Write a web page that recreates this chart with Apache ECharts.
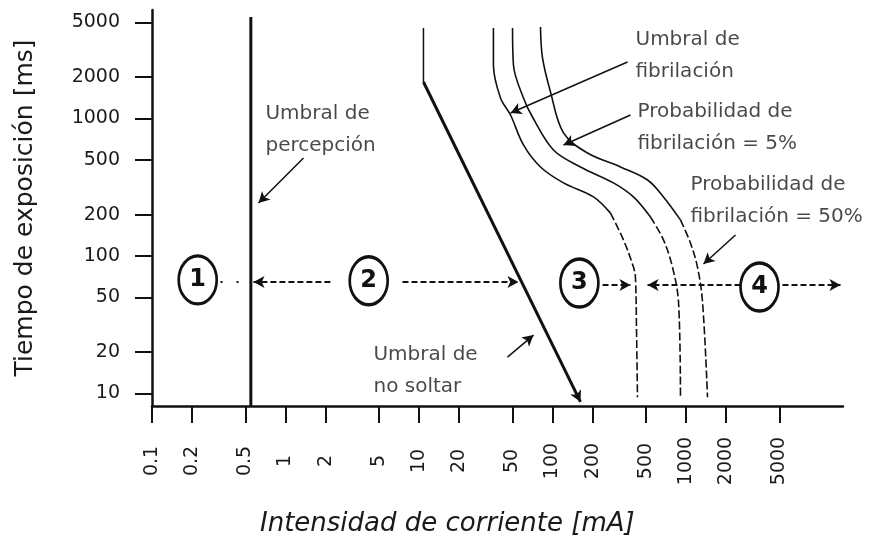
<!DOCTYPE html>
<html>
<head>
<meta charset="utf-8">
<style>
  html, body { margin: 0; padding: 0; background: #fff; }
  #chart { width: 891px; height: 539px; }
</style>
<script src="https://cdn.jsdelivr.net/npm/echarts@6/dist/echarts.min.js"></script>
</head>
<body>
<div id="chart"></div>
<script>
// tick values on both log axes
const xTicks = [0.1, 0.2, 0.5, 1, 2, 5, 10, 20, 50, 100, 200, 500, 1000, 2000, 5000];
const yTicks = [10, 20, 50, 100, 200, 500, 1000, 2000, 5000];

// [mA, ms]
const perception = [[0.55, 8], [0.55, 5470]];
const noLetGoTop = [[10.8, 4550], [10.8, 1842]];
const noLetGoSlope = [[10.8, 1842], [162, 8.7]];

const fibUpper = [[36.1, 4550], [36.1, 2449], [40.8, 1409], [48.5, 1060], [60.6, 642], [81.3, 444], [120.9, 340], [202.8, 269], [271.8, 205]];
const fibLower = [[271.8, 205], [340, 131], [404, 83], [418, 70], [426, 29], [433, 9.4]];
const p5Upper = [[50.2, 4550], [51, 2449], [60.6, 1409], [70.8, 1025], [101.7, 590], [162, 444], [286, 340], [404, 269], [542, 192]];
const p5Lower = [[542, 192], [678, 131], [792, 83], [879, 46.3], [909, 9.4]];
const p50Upper = [[81.3, 4625], [84.2, 2754], [96.6, 1559], [120.9, 785], [182.9, 561], [323, 444], [515, 357], [678, 269], [909, 183]];
const p50Lower = [[909, 183], [1081, 124], [1219, 83], [1330, 46.3], [1449, 9.4]];

// zone markers
const zoneNames = ['1', '2', '3', '4'];
const zonePos = [[0.22, 67], [4.2, 66], [159, 63.6], [3555, 59.5]];

// dashed arrows between zones
const rowFrom = [[2.17, 64.7], [7.52, 64.7], [237, 61.5], [2560, 61.5], [5284, 61.5]];
const rowTo = [[0.576, 64.7], [55.6, 64.7], [384, 61.5], [515, 61.5], [14370, 61.5]];
const dotsFrom = [0.326, 64.7];
const dotsTo = [0.5, 64.7];

// annotation texts and their pointer arrows
const noteText = ['Umbral de\npercepción', 'Umbral de\nfibrilación', 'Probabilidad de\nfibrilación = 5%', 'Probabilidad de\nfibrilación = 50%', 'Umbral de\nno soltar'];
const notePos = [[0.708, 825], [418.5, 2850], [433, 853], [1081, 251], [4.56, 14.6]];
const pointerFrom = [[1.364, 516], [46.0, 18.4], [364.6, 2576], [384, 1060], [2349, 142]];
const pointerTo = [[0.628, 243], [72.1, 26.6], [48.5, 1096], [120.9, 642], [1352, 87.5]];

const FONT = 'DejaVu Sans';
const INK = '#111';
const TEXT = '#1a1a1a';

function lineSeries(data, width, type) {
  return {
    type: 'line',
    data,
    symbol: 'none',
    smooth: 0.35,
    silent: true,
    lineStyle: { color: INK, width, type: type || 'solid' },
    z: 3
  };
}

function arrowSeries(from, to, style, head) {
  return {
    type: 'line',
    data: [],
    silent: true,
    markLine: {
      silent: true,
      animation: false,
      symbol: ['none', head ? 'arrow' : 'none'],
      symbolSize: [9, 11],
      label: { show: false },
      lineStyle: style,
      emphasis: { disabled: true },
      data: from.map((f, i) => [{ coord: f }, { coord: to[i] }])
    }
  };
}

const chart = echarts.init(document.getElementById('chart'));

chart.setOption({
  animation: false,
  backgroundColor: '#fff',
  title: {
    text: 'Intensidad de corriente [mA]',
    left: 255,
    top: 506,
    textStyle: { fontFamily: FONT, fontSize: 26, fontWeight: 'normal', fontStyle: 'italic', color: TEXT }
  },
  grid: { left: 152, right: 48, top: 10, bottom: 133 },
  xAxis: {
    type: 'log',
    logBase: 10,
    min: 0.1,
    max: 15000,
    axisLine: { lineStyle: { color: INK, width: 2.5 } },
    axisTick: { show: true, customValues: xTicks, length: 17, lineStyle: { color: INK, width: 2 } },
    axisLabel: {
      customValues: xTicks,
      rotate: 90,
      align: 'center',
      margin: 55,
      fontFamily: FONT,
      fontSize: 19,
      color: TEXT,
      formatter: (v) => String(v)
    },
    splitLine: { show: false },
    minorTick: { show: false }
  },
  yAxis: {
    type: 'log',
    logBase: 10,
    min: 8.11,
    max: 6152,
    name: 'Tiempo de exposición [ms]',
    nameLocation: 'middle',
    nameRotate: 90,
    nameGap: 114,
    nameTextStyle: { fontFamily: FONT, fontSize: 25, color: TEXT },
    axisLine: { lineStyle: { color: INK, width: 2.5 } },
    axisTick: { show: true, customValues: yTicks, length: 17, lineStyle: { color: INK, width: 2 } },
    axisLabel: {
      customValues: yTicks,
      margin: 32,
      fontFamily: FONT,
      fontSize: 19,
      color: TEXT,
      formatter: (v) => String(v)
    },
    splitLine: { show: false },
    minorTick: { show: false }
  },
  series: [
    lineSeries(perception, 3),
    lineSeries(noLetGoTop, 1.5),
    arrowSeries([noLetGoSlope[0]], [noLetGoSlope[1]], { color: INK, width: 3, type: 'solid' }, true),
    lineSeries(fibUpper, 1.6),
    lineSeries(fibLower, 1.6, [8, 3]),
    lineSeries(p5Upper, 1.6),
    lineSeries(p5Lower, 1.6, [8, 3]),
    lineSeries(p50Upper, 1.6),
    lineSeries(p50Lower, 1.6, [8, 3]),
    arrowSeries(rowFrom, rowTo, { color: INK, width: 2, type: [6, 3] }, true),
    arrowSeries([dotsFrom], [dotsTo], { color: INK, width: 2, type: [2, 14] }, false),
    arrowSeries(pointerFrom, pointerTo, { color: INK, width: 1.5, type: 'solid' }, true),
    {
      type: 'scatter',
      silent: true,
      symbol: 'circle',
      symbolSize: [38, 48],
      itemStyle: { color: '#fff', borderColor: INK, borderWidth: 3, opacity: 1 },
      label: {
        show: true,
        position: 'inside',
        formatter: (p) => p.data[2],
        fontFamily: FONT,
        fontSize: 24,
        fontWeight: 'bold',
        color: INK
      },
      data: zonePos.map((p, i) => [p[0], p[1], zoneNames[i]]),
      z: 5
    },
    {
      type: 'scatter',
      silent: true,
      symbolSize: 0,
      label: {
        show: true,
        position: 'right',
        distance: 0,
        formatter: (p) => p.data[2],
        fontFamily: FONT,
        fontSize: 20,
        lineHeight: 32,
        color: TEXT
      },
      data: notePos.map((p, i) => [p[0], p[1], noteText[i]]),
      z: 5
    }
  ]
});

window.addEventListener('resize', () => chart.resize());
</script>
</body>
</html>
